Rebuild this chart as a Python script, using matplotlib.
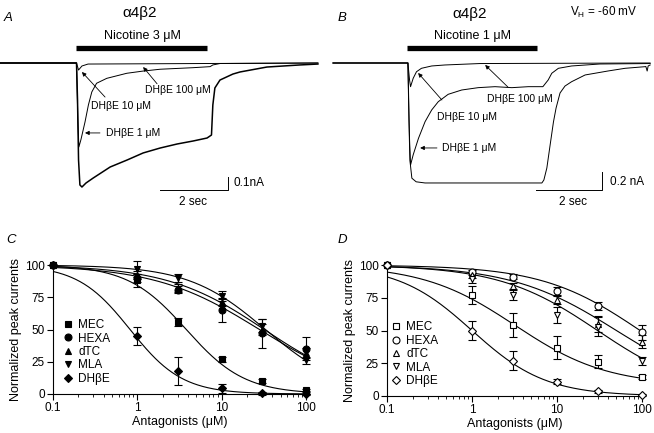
import numpy as np
import matplotlib
matplotlib.use("Agg")
import matplotlib.pyplot as plt

plt.rcParams["font.family"] = ["Liberation Sans", "DejaVu Sans"]
plt.rcParams["mathtext.fontset"] = "custom"
plt.rcParams["mathtext.rm"] = "Liberation Sans"
plt.rcParams["mathtext.it"] = "Liberation Sans:italic"

W, H = 654, 433

# ---- panel A traces: time (s), current (nA) ----
a_t_1 = [0, 2.25, 2.28, 2.31, 2.35, 2.41, 2.53, 2.74, 3.24, 3.74, 4.21, 4.71, 5.21,
         5.68, 6.09, 6.22, 6.26, 6.32, 6.47, 6.85, 7.06, 7.85, 8.82, 9.35]
a_i_1 = [0, 0, -0.285, -0.746, -0.938, -0.954, -0.923, -0.885, -0.80, -0.746, -0.692,
         -0.654, -0.623, -0.60, -0.577, -0.554, -0.323, -0.192, -0.131, -0.085, -0.069,
         -0.031, -0.015, -0.008]
a_t_10 = [0, 2.25, 2.29, 2.32, 2.38, 2.50, 2.60, 2.70, 2.84, 3.14, 3.73, 4.21, 4.71,
          5.68, 6.18, 6.26, 6.47, 9.35]
a_i_10 = [0, 0, -0.44, -0.646, -0.59, -0.454, -0.323, -0.223, -0.156, -0.118, -0.079,
          -0.062, -0.048, -0.036, -0.028, -0.015, -0.004, 0]
a_t_100 = [0, 2.25, 2.31, 2.41, 2.59, 9.35]
a_i_100 = [0, 0, -0.054, -0.023, -0.008, 0]

# ---- panel B traces ----
b_t_1 = [0, 2.27, 2.30, 2.33, 2.39, 2.52, 2.79, 6.33, 6.39, 6.48, 6.58, 6.68, 6.76,
         6.88, 7.03, 7.23, 7.64, 8.33, 8.85, 9.45, 9.48, 9.52, 9.55, 9.61]
b_i_1 = [0, 0, -0.63, -1.08, -1.28, -1.32, -1.333, -1.333, -1.30, -1.167, -0.91,
         -0.656, -0.50, -0.333, -0.256, -0.208, -0.133, -0.089, -0.059, -0.041, -0.039,
         -0.089, -0.033, -0.022]
b_t_10 = [0, 2.27, 2.32, 2.35, 2.43, 2.59, 2.79, 2.99, 3.19, 3.49, 3.90, 4.40, 4.91,
          5.42, 5.92, 6.36, 6.52, 6.63, 6.83, 7.23, 8.09, 9.61]
b_i_10 = [0, 0, -0.856, -1.133, -1.02, -0.837, -0.652, -0.522, -0.43, -0.348, -0.30,
          -0.274, -0.263, -0.274, -0.263, -0.263, -0.189, -0.114, -0.059, -0.033, -0.011,
          -0.006]
b_t_100 = [0, 2.27, 2.32, 2.35, 2.43, 2.53, 2.68, 2.99, 3.39, 4.45, 9.61]
b_i_100 = [0, 0, -0.189, -0.263, -0.17, -0.097, -0.059, -0.033, -0.022, -0.006, 0]

# ---- concentration-response data ----
conc = [0.1, 1, 3, 10, 30, 100]
names = ["MEC", "HEXA", "dTC", "MLA", "DHβE"]
markers = ["s", "o", "^", "v", "D"]

c_mec = [100, 88, 56, 27, 10, 3]
c_hexa = [100, 90, 81, 65, 47, 35]
c_dtc = [100, 92, 82, 71, 50, 32]
c_mla = [100, 97, 90, 76, 53, 26]
c_dhbe = [100, 45, 18, 4.5, 0.5, 0.3]
c_mec_err = [0, 5, 3, 2, 1.5, 1]
c_hexa_err = [0, 3, 3, 9.5, 11, 9]
c_dtc_err = [0, 3, 3, 3, 4, 4]
c_mla_err = [0, 6, 3, 4, 5, 3]
c_dhbe_err = [0, 7, 11, 3.5, 1, 1]
c_ic50 = [3.8, 28, 32, 33, 0.82]
c_nh = [1.25, 0.7, 0.75, 0.95, 1.4]
c_bottom = [0, 0, 0, 0, 0]

d_mec = [100, 77, 54, 37, 26, 14.5]
d_hexa = [100, 95, 91, 80, 69, 48.5]
d_dtc = [100, 92, 84, 73, 55, 41.5]
d_mla = [100, 89, 77, 62, 53, 27]
d_dhbe = [100, 50, 27, 11, 3.5, 0.8]
d_mec_err = [0, 7, 9, 9, 5, 1.5]
d_hexa_err = [0, 1, 2, 3, 3, 6]
d_dtc_err = [0, 2, 2, 3, 6, 5]
d_mla_err = [0, 3, 4, 6, 7, 3]
d_dhbe_err = [0, 7, 7, 2, 1, 1]
d_ic50 = [3.2, 95, 50, 30, 1.0]
d_nh = [0.8, 0.75, 0.7, 0.75, 1.0]
d_bottom = [8, 0, 0, 0, 0]


def fx(x):
    return x / W


def fy(y):
    return 1 - y / H


fig = plt.figure(figsize=(W / 100, H / 100), dpi=100)


def trace_axes(x0, x1, t0_px, s_px, na_px):
    # axes over a pixel box, scaled in seconds / nA, baseline at pixel row 63
    ax = fig.add_axes([fx(x0), fy(215), (x1 - x0) / W, 215 / H])
    ax.set_xlim((x0 - t0_px) / s_px, (x1 - t0_px) / s_px)
    ax.set_ylim(-(215 - 63) / na_px, 63 / na_px)
    ax.axis("off")
    return ax


def arrow(ax, tip, tail):
    ax.annotate("", xy=tip, xytext=tail,
                arrowprops=dict(arrowstyle="-|>", lw=0.6, color="k",
                                mutation_scale=6, shrinkA=0, shrinkB=0))


ax_a = trace_axes(0, 325, 0, 34, 130)
ax_a.plot(a_t_100, a_i_100, color="k", lw=0.7)
ax_a.plot(a_t_10, a_i_10, color="k", lw=0.7)
ax_a.plot(a_t_1, a_i_1, color="k", lw=1.1)
ax_a.plot([2.24, 6.09], [0.115, 0.115], color="k", lw=3.8, solid_capstyle="butt")
ax_a.plot([4.71, 6.71, 6.71], [-0.977, -0.977, -0.877], color="k", lw=0.7)
arrow(ax_a, (4.21, -0.031), (4.62, -0.16))
ax_a.text(4.26, -0.208, "DHβE 100 μM", fontsize=7.5, va="center")
arrow(ax_a, (2.41, -0.069), (3.09, -0.262))
ax_a.text(2.68, -0.331, "DHβE 10 μM", fontsize=7.5, va="center")
arrow(ax_a, (2.50, -0.538), (2.94, -0.538))
ax_a.text(3.12, -0.538, "DHβE 1 μM", fontsize=7.5, va="center")

ax_b = trace_axes(325, 654, 333, 33, 90)
ax_b.plot(b_t_100, b_i_100, color="k", lw=0.7)
ax_b.plot(b_t_10, b_i_10, color="k", lw=0.7)
ax_b.plot(b_t_1, b_i_1, color="k", lw=0.7)
ax_b.plot([2.24, 6.18], [0.167, 0.167], color="k", lw=3.8, solid_capstyle="butt")
ax_b.plot([6.15, 8.15, 8.15], [-1.411, -1.411, -1.211], color="k", lw=0.7)
arrow(ax_b, (4.61, -0.022), (5.30, -0.267))
ax_b.text(4.67, -0.40, "DHβE 100 μM", fontsize=7.5, va="center")
arrow(ax_b, (2.58, -0.111), (3.30, -0.411))
ax_b.text(3.15, -0.60, "DHβE 10 μM", fontsize=7.5, va="center")
arrow(ax_b, (2.64, -0.944), (3.15, -0.944))
ax_b.text(3.30, -0.944, "DHβE 1 μM", fontsize=7.5, va="center")

# top-panel text
fig.text(fx(8), fy(18), "A", fontsize=9.5, style="italic", ha="center", va="center")
fig.text(fx(342), fy(18), "B", fontsize=9.5, style="italic", ha="center", va="center")
fig.text(fx(140), fy(13), "α4β2", fontsize=11, ha="center", va="center")
fig.text(fx(470), fy(14), "α4β2", fontsize=11, ha="center", va="center")
fig.text(fx(142), fy(36), "Nicotine 3 μM", fontsize=9, ha="center", va="center")
fig.text(fx(472), fy(36), "Nicotine 1 μM", fontsize=9, ha="center", va="center")
fig.text(fx(570), fy(12), r"V$_{\mathrm{H}}$ = -60 mV", fontsize=8.5, ha="left", va="center")
fig.text(fx(233), fy(183), "0.1nA", fontsize=8.5, ha="left", va="center")
fig.text(fx(193), fy(202), "2 sec", fontsize=8.5, ha="center", va="center")
fig.text(fx(610), fy(182), "0.2 nA", fontsize=8.5, ha="left", va="center")
fig.text(fx(573), fy(202), "2 sec", fontsize=8.5, ha="center", va="center")
fig.text(fx(11), fy(240), "C", fontsize=9.5, style="italic", ha="center", va="center")
fig.text(fx(342), fy(240), "D", fontsize=9.5, style="italic", ha="center", va="center")


def dose_panel(rect, means, errs, ic50, nh, bottom, filled, leg_anchor):
    ax = fig.add_axes(rect)
    xs = np.logspace(-1, 2, 300)
    x = np.array(conc)
    for m, e, ic, n, b, mk, lab in zip(means, errs, ic50, nh, bottom, markers, names):
        m = np.array(m, dtype=float)
        e = np.array(e, dtype=float)
        ax.plot(xs, b + (100 - b) / (1 + (xs / ic) ** n), color="k", lw=0.8)
        keep = e > 0
        ax.errorbar(x[keep], m[keep], yerr=e[keep], fmt="none", ecolor="k",
                    elinewidth=0.8, capsize=2.8, capthick=0.8, clip_on=False)
        ms = 4.2 if mk == "D" else 5
        ax.plot(x, m, linestyle="none", marker=mk, ms=ms, mec="k", mew=0.8,
                mfc="k" if filled else "white", clip_on=False, zorder=5, label=lab)
    ax.set_xscale("log")
    ax.set_xlim(0.1, 100)
    ax.set_ylim(0, 100)
    ax.set_xticks([0.1, 1, 10, 100])
    ax.set_xticklabels(["0.1", "1", "10", "100"])
    ax.set_yticks([0, 25, 50, 75, 100])
    ax.tick_params(labelsize=8.5, direction="out", length=4, width=0.8, pad=2)
    ax.tick_params(which="minor", length=2.2, width=0.6)
    for s in ("top", "right"):
        ax.spines[s].set_visible(False)
    for s in ("left", "bottom"):
        ax.spines[s].set_linewidth(0.8)
    ax.set_xlabel("Antagonists (μM)", fontsize=9, labelpad=1)
    ax.set_ylabel("Normalized peak currents", fontsize=9, labelpad=2)
    ax.legend(loc="upper left", bbox_to_anchor=leg_anchor, frameon=False,
              fontsize=8.5, handlelength=0.8, handletextpad=0.5,
              labelspacing=0.12, borderpad=0, borderaxespad=0)
    return ax


dose_panel([fx(53), fy(394), (306 - 53) / W, (394 - 265) / H],
           [c_mec, c_hexa, c_dtc, c_mla, c_dhbe],
           [c_mec_err, c_hexa_err, c_dtc_err, c_mla_err, c_dhbe_err],
           c_ic50, c_nh, c_bottom, True, (0.04, 0.58))
dose_panel([fx(387), fy(396), (642 - 387) / W, (396 - 265) / H],
           [d_mec, d_hexa, d_dtc, d_mla, d_dhbe],
           [d_mec_err, d_hexa_err, d_dtc_err, d_mla_err, d_dhbe_err],
           d_ic50, d_nh, d_bottom, False, (0.015, 0.57))

fig.savefig("out.png", dpi=100)
